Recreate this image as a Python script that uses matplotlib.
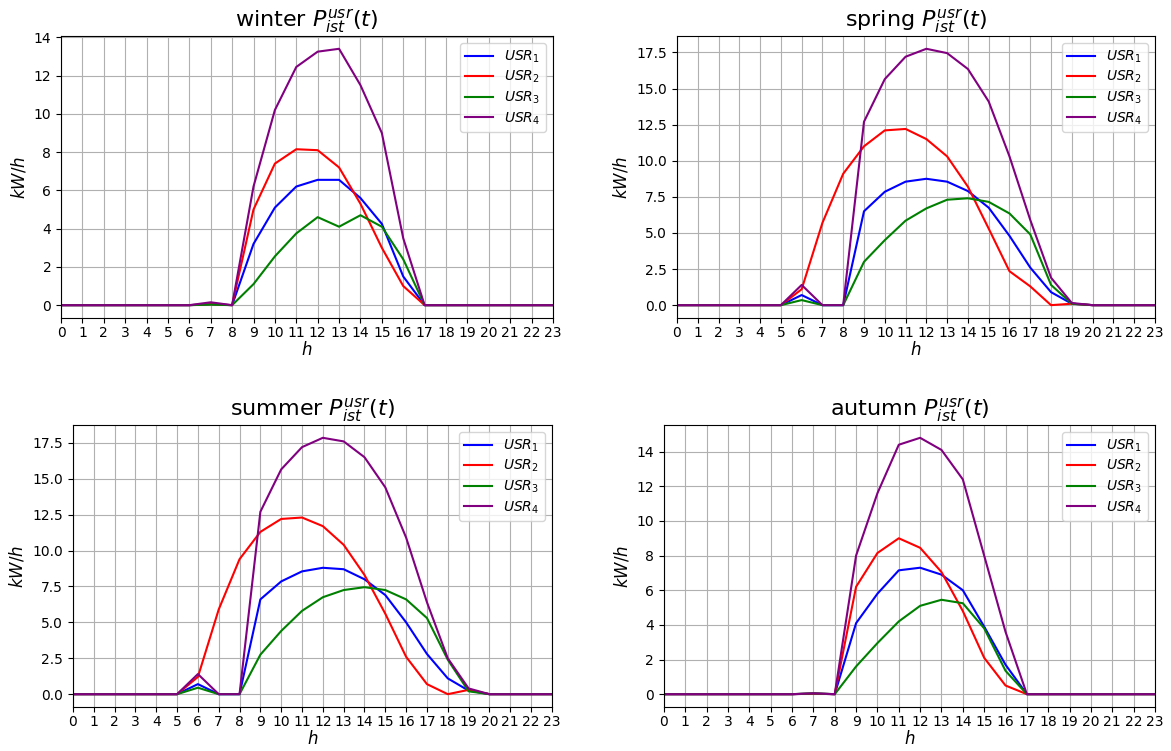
import matplotlib
matplotlib.use('Agg')
import matplotlib.pyplot as plt
import numpy as np

hours = list(range(24))
seasons = ['winter', 'spring', 'summer', 'autumn']
labels = ['$USR_1$', '$USR_2$', '$USR_3$', '$USR_4$']
colors = ['blue', 'red', 'green', 'purple']

# valori orari per utente (kW/h), ore 0..23
winter_usr1 = [0, 0, 0, 0, 0, 0, 0, 0.05, 0, 3.2, 5.1, 6.2, 6.55, 6.55, 5.6, 4.25, 1.5, 0, 0, 0, 0, 0, 0, 0]
winter_usr2 = [0, 0, 0, 0, 0, 0, 0, 0.05, 0, 5.0, 7.4, 8.15, 8.1, 7.2, 5.3, 3.0, 1.0, 0, 0, 0, 0, 0, 0, 0]
winter_usr3 = [0, 0, 0, 0, 0, 0, 0, 0.03, 0, 1.1, 2.55, 3.75, 4.6, 4.1, 4.7, 4.1, 2.4, 0, 0, 0, 0, 0, 0, 0]
winter_usr4 = [0, 0, 0, 0, 0, 0, 0, 0.15, 0, 6.2, 10.2, 12.45, 13.25, 13.4, 11.5, 9.0, 3.5, 0, 0, 0, 0, 0, 0, 0]

spring_usr1 = [0, 0, 0, 0, 0, 0, 0.7, 0, 0, 6.5, 7.85, 8.55, 8.75, 8.55, 7.9, 6.75, 4.8, 2.6, 0.9, 0.1, 0, 0, 0, 0]
spring_usr2 = [0, 0, 0, 0, 0, 0, 1.1, 5.7, 9.1, 11.0, 12.1, 12.2, 11.5, 10.3, 8.2, 5.3, 2.35, 1.3, 0, 0.1, 0, 0, 0, 0]
spring_usr3 = [0, 0, 0, 0, 0, 0, 0.35, 0, 0, 3.0, 4.5, 5.85, 6.7, 7.3, 7.4, 7.15, 6.35, 4.9, 1.4, 0.1, 0, 0, 0, 0]
spring_usr4 = [0, 0, 0, 0, 0, 0, 1.4, 0, 0, 12.7, 15.65, 17.2, 17.75, 17.45, 16.35, 14.1, 10.3, 5.9, 1.9, 0.15, 0, 0, 0, 0]

summer_usr1 = [0, 0, 0, 0, 0, 0, 0.7, 0, 0, 6.6, 7.85, 8.55, 8.8, 8.7, 8.0, 6.9, 5.0, 2.8, 1.1, 0.25, 0, 0, 0, 0]
summer_usr2 = [0, 0, 0, 0, 0, 0, 1.2, 5.9, 9.4, 11.3, 12.2, 12.3, 11.7, 10.4, 8.3, 5.6, 2.6, 0.7, 0, 0.3, 0, 0, 0, 0]
summer_usr3 = [0, 0, 0, 0, 0, 0, 0.45, 0, 0, 2.75, 4.4, 5.8, 6.75, 7.25, 7.45, 7.25, 6.6, 5.3, 2.4, 0.2, 0, 0, 0, 0]
summer_usr4 = [0, 0, 0, 0, 0, 0, 1.4, 0, 0, 12.7, 15.65, 17.2, 17.85, 17.6, 16.5, 14.4, 10.9, 6.4, 2.5, 0.4, 0, 0, 0, 0]

autumn_usr1 = [0, 0, 0, 0, 0, 0, 0, 0.03, 0, 4.1, 5.8, 7.15, 7.3, 6.9, 6.0, 3.9, 1.7, 0, 0, 0, 0, 0, 0, 0]
autumn_usr2 = [0, 0, 0, 0, 0, 0, 0, 0.03, 0, 6.2, 8.15, 9.0, 8.45, 7.05, 4.8, 2.1, 0.5, 0, 0, 0, 0, 0, 0, 0]
autumn_usr3 = [0, 0, 0, 0, 0, 0, 0, 0.05, 0, 1.6, 2.95, 4.2, 5.1, 5.45, 5.25, 3.8, 1.35, 0, 0, 0, 0, 0, 0, 0]
autumn_usr4 = [0, 0, 0, 0, 0, 0, 0, 0.05, 0, 8.0, 11.6, 14.4, 14.8, 14.1, 12.4, 8.0, 3.6, 0, 0, 0, 0, 0, 0, 0]

data = {
    'winter': [winter_usr1, winter_usr2, winter_usr3, winter_usr4],
    'spring': [spring_usr1, spring_usr2, spring_usr3, spring_usr4],
    'summer': [summer_usr1, summer_usr2, summer_usr3, summer_usr4],
    'autumn': [autumn_usr1, autumn_usr2, autumn_usr3, autumn_usr4],
}

fig, axes = plt.subplots(2, 2, figsize=(11.71, 7.51), dpi=100)

# posizioni degli assi (frazioni della figura)
positions = [
    [0.0521, 0.5766, 0.4201, 0.3755],
    [0.5781, 0.5766, 0.4082, 0.3755],
    [0.0623, 0.0586, 0.4090, 0.3755],
    [0.5670, 0.0586, 0.4193, 0.3755],
]

for ax, season, pos in zip(axes.flat, seasons, positions):
    for serie, lab, col in zip(data[season], labels, colors):
        ax.plot(hours, serie, label=lab, color=col)
    ax.set_title(season + r' $P_{ist}^{usr}(t)$', fontsize=16)
    ax.set_xlabel('$h$', fontsize=12, labelpad=1)
    ax.set_ylabel('$kW/h$', fontsize=12)
    ax.set_xticks(hours)
    ax.tick_params(axis='x', pad=2)
    ax.set_xlim(0, 23)
    ax.grid(True)
    ax.legend(loc='upper right', labelspacing=0.3)
    ax.set_position(pos)

plt.savefig('out.png')
